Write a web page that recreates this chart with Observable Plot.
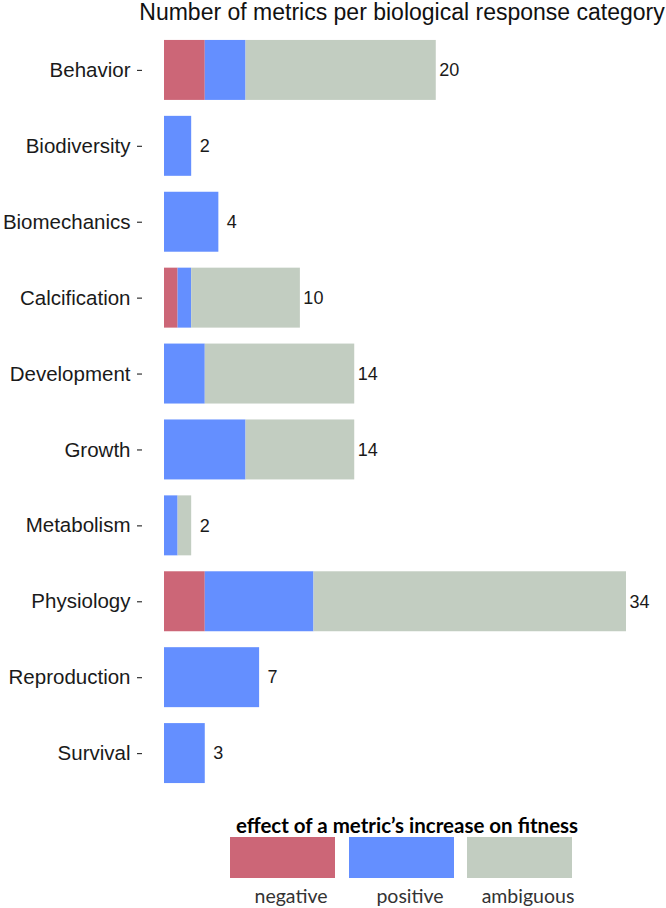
<!DOCTYPE html>
<html>
<head>
<meta charset="utf-8">
<script src="https://cdn.jsdelivr.net/npm/d3@7"></script>
<script src="https://cdn.jsdelivr.net/npm/@observablehq/plot@0.6"></script>
<style>
  html, body { margin: 0; padding: 0; background: #fff; }
  body { width: 666px; height: 908px; position: relative; overflow: hidden; font-family: "Liberation Sans", Arial, sans-serif; }
  #title { position: absolute; top: 0; left: 402px; transform: translateX(-50%); white-space: nowrap; font-size: 23px; line-height: 24px; color: #111; }
  #chart { position: absolute; top: 0; left: 0; }
  #legend { position: absolute; top: 0; left: 0; width: 666px; height: 908px; font-family: Lato, "Open Sans", sans-serif; pointer-events: none; }
  #legend .ltitle { position: absolute; top: 814px; left: 407px; transform: translateX(-50%); white-space: nowrap; font-weight: bold; font-size: 20.5px; line-height: 22px; color: #000; }
  #legend .sw { position: absolute; top: 837px; width: 105px; height: 41px; }
  #legend .lab { position: absolute; top: 885px; white-space: nowrap; font-size: 19.5px; line-height: 22px; color: #333; transform: translateX(-50%); }
</style>
</head>
<body>
<div id="title"></div>
<div id="chart"></div>
<div id="legend"></div>
<script>
const titleText = "Number of metrics per biological response category";
const legendTitle = "effect of a metric\u2019s increase on fitness";
const categories = ["Behavior", "Biodiversity", "Biomechanics", "Calcification", "Development", "Growth", "Metabolism", "Physiology", "Reproduction", "Survival"];
const effects = ["negative", "positive", "ambiguous"];
const effectColors = ["#cc6677", "#648fff", "#c2cdc1"];
const negativeCounts  = [3, 0, 0, 1, 0, 0, 0, 3, 0, 0];
const positiveCounts  = [3, 2, 4, 1, 3, 6, 1, 8, 7, 3];
const ambiguousCounts = [14, 0, 0, 8, 11, 8, 1, 23, 0, 0];

const seriesByEffect = {negative: negativeCounts, positive: positiveCounts, ambiguous: ambiguousCounts};
const rows = [];
categories.forEach((c, i) => {
  effects.forEach(e => {
    const v = seriesByEffect[e][i];
    if (v > 0) rows.push({category: c, effect: e, count: v});
  });
});
const totals = categories.map((c, i) => ({category: c, total: negativeCounts[i] + positiveCounts[i] + ambiguousCounts[i]}));

document.getElementById("title").textContent = titleText;

const chart = Plot.plot({
  width: 666,
  height: 800,
  marginTop: 24,
  marginBottom: 1,
  marginLeft: 164,
  marginRight: 40,
  style: {fontFamily: "'Liberation Sans', Arial, sans-serif", fontSize: "20.5px", color: "#1a1a1a", background: "transparent"},
  x: {domain: [0, 34], axis: null},
  y: {domain: categories, padding: 0.21, round: false, label: null},
  color: {domain: effects, range: effectColors},
  marks: [
    Plot.barX(rows, Plot.stackX({y: "category", x: "count", fill: "effect", order: effects})),
    Plot.text(totals, {y: "category", x: "total", text: d => String(d.total), dx: 13, textAnchor: "middle", fontSize: 18, fill: "#1a1a1a"}),
    Plot.axisY({tickSize: 5, tickPadding: 7, dx: -22, stroke: "#333", strokeWidth: 1.2, fill: "#1a1a1a", label: null})
  ]
});
document.getElementById("chart").appendChild(chart);

const legend = document.getElementById("legend");
const lt = document.createElement("div");
lt.className = "ltitle";
lt.textContent = legendTitle;
legend.appendChild(lt);
const swLefts = [230, 349, 467];
effects.forEach((e, i) => {
  const sw = document.createElement("div");
  sw.className = "sw";
  sw.style.left = swLefts[i] + "px";
  sw.style.background = effectColors[i];
  legend.appendChild(sw);
  const lab = document.createElement("div");
  lab.className = "lab";
  lab.style.left = (swLefts[i] + 52 + 9) + "px";
  lab.textContent = e;
  legend.appendChild(lab);
});
</script>
</body>
</html>
